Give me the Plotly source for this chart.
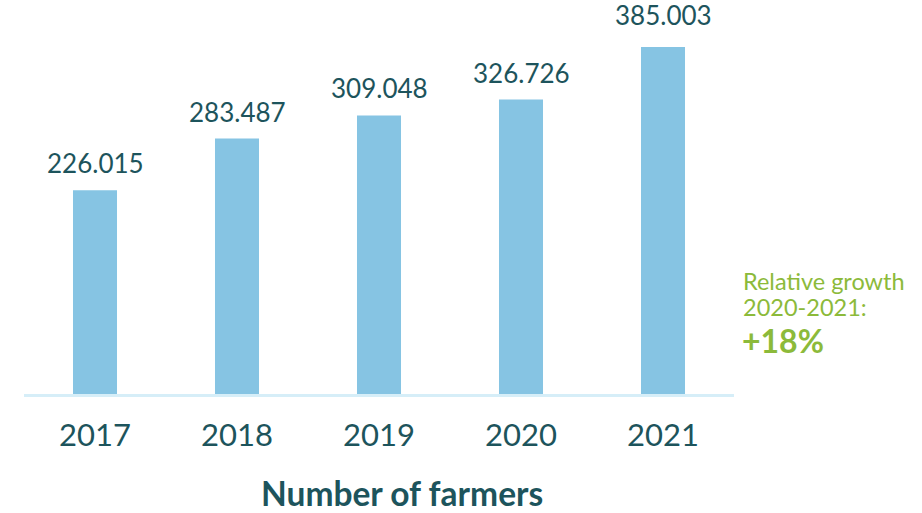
import plotly.graph_objects as go

years = ["2017", "2018", "2019", "2020", "2021"]
farmers = [226.015, 283.487, 309.048, 326.726, 385.003]
value_labels = ["226.015", "283.487", "309.048", "326.726", "385.003"]
chart_title = "Number of farmers"
growth_lines = ["Relative growth", "2020-2021:"]
growth_value = "+18%"

TEAL = "#1d545c"
BAR = "#86c4e3"
AXIS = "#d6eef8"
GREEN = "#8cba3a"
FONT = "Lato, 'Noto Sans', sans-serif"

W, H = 922, 513
L, R = 24, 734
BASE = 394
ppu = (BASE - 47) / 385.003
ymax = BASE / ppu

fig = go.Figure()
fig.add_trace(go.Bar(x=years, y=farmers, marker=dict(color=BAR, line=dict(width=0)),
                     hoverinfo="x+y"))

for i, (v, lab) in enumerate(zip(farmers, value_labels)):
    shift = 32 if i == len(farmers) - 1 else 27
    fig.add_annotation(x=i, y=v, text=lab, showarrow=False, yanchor="middle",
                       yshift=shift, font=dict(family=FONT, size=26, color=TEAL))

def py(pix):
    return (BASE - pix) / BASE

def px(pix):
    return (pix - L) / (R - L)

fig.add_annotation(xref="paper", yref="paper", x=px(402), y=py(493), text="<b>" + chart_title + "</b>",
                   showarrow=False, xanchor="center", yanchor="middle",
                   font=dict(family=FONT, size=33.5, color=TEAL))
fig.add_annotation(xref="paper", yref="paper", x=px(741), y=py(281), text=growth_lines[0],
                   showarrow=False, xanchor="left", yanchor="middle",
                   font=dict(family=FONT, size=23.5, color=GREEN))
fig.add_annotation(xref="paper", yref="paper", x=px(741), y=py(307), text=growth_lines[1],
                   showarrow=False, xanchor="left", yanchor="middle",
                   font=dict(family=FONT, size=23.5, color=GREEN))
fig.add_annotation(xref="paper", yref="paper", x=px(740), y=py(340), text="<b>" + growth_value + "</b>",
                   showarrow=False, xanchor="left", yanchor="middle",
                   font=dict(family=FONT, size=32, color=GREEN))

fig.update_layout(
    width=W, height=H,
    margin=dict(l=L, r=W - R, t=0, b=H - BASE, pad=0),
    paper_bgcolor="white", plot_bgcolor="white",
    bargap=0.69, showlegend=False,
    xaxis=dict(type="category", range=[-0.5, len(years) - 0.5], showline=True, linecolor=AXIS,
               linewidth=3, ticks="", showgrid=False,
               tickfont=dict(family=FONT, size=31, color=TEAL), ticklabelstandoff=12),
    yaxis=dict(range=[0, ymax], visible=False, showgrid=False, zeroline=False),
)

fig.write_html("out.html")
